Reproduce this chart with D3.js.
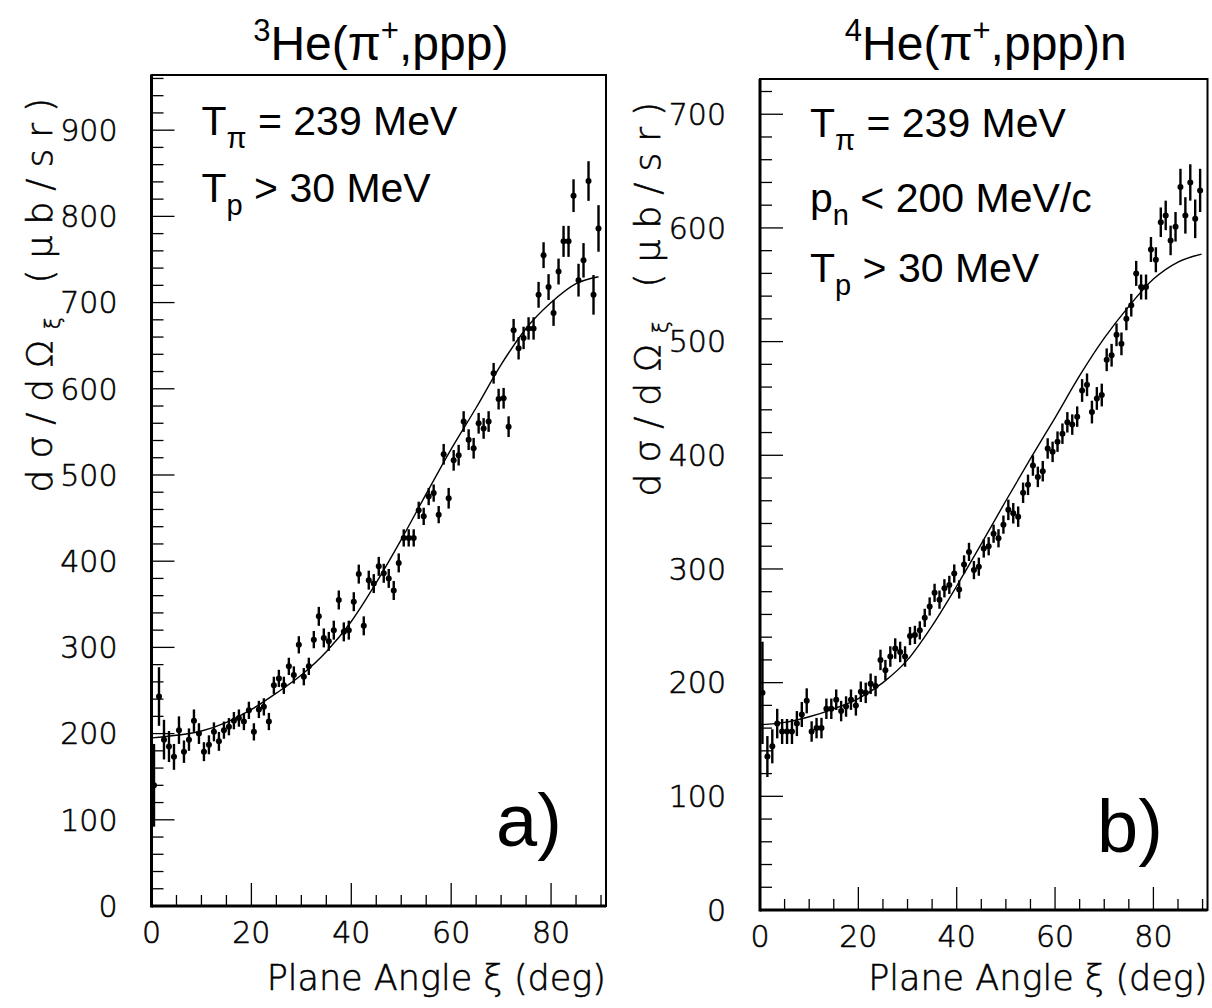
<!DOCTYPE html>
<html><head><meta charset="utf-8">
<script src="https://cdn.jsdelivr.net/npm/d3@7"></script>
<style>
html,body{margin:0;padding:0;background:#fff;}
svg{display:block;}
</style></head>
<body>
<script>
// ---------- data ----------
const binCenters = [0.5,1.5,2.5,3.5,4.5,5.5,6.5,7.5,8.5,9.5,10.5,11.5,12.5,13.5,14.5,15.5,16.5,17.5,18.5,19.5,
 20.5,21.5,22.5,23.5,24.5,25.5,26.5,27.5,28.5,29.5,30.5,31.5,32.5,33.5,34.5,35.5,36.5,37.5,38.5,39.5,
 40.5,41.5,42.5,43.5,44.5,45.5,46.5,47.5,48.5,49.5,50.5,51.5,52.5,53.5,54.5,55.5,56.5,57.5,58.5,59.5,
 60.5,61.5,62.5,63.5,64.5,65.5,66.5,67.5,68.5,69.5,70.5,71.5,72.5,73.5,74.5,75.5,76.5,77.5,78.5,79.5,
 80.5,81.5,82.5,83.5,84.5,85.5,86.5,87.5,88.5,89.5];

const he3Values = [140,243,193,185,173,204,179,193,215,200,
 179,187,202,191,204,208,215,218,214,227,
 202,228,231,214,256,264,256,278,268,303,
 266,278,309,336,311,307,320,355,318,320,
 353,385,325,378,374,394,386,380,366,398,
 427,427,427,459,452,475,479,454,524,473,
 517,523,562,541,531,560,554,562,618,588,
 589,556,668,647,659,670,670,709,755,718,
 688,736,771,771,824,726,749,841,709,786];
const he3Errors = [48,34,23,18,15,16,13,13,13,12,
 11,11,11,11,10,10,10,10,10,10,
 10,10,10,10,10,10,10,10,10,10,
 10,10,10,11,11,11,11,11,11,11,
 11,11,11,11,11,11,11,11,11,11,
 10,10,10,10,10,10,10,10,12,12,
 12,12,12,12,12,12,12,12,12,12,
 12,12,13,13,13,13,13,15,15,15,
 15,15,18,18,19,19,20,23,23,27];

const he4Values = [191,135,144,164,157,157,157,164,172,184,
 157,160,160,177,177,185,175,179,185,180,
 192,191,199,197,220,211,223,230,227,223,
 241,242,246,257,267,279,273,283,286,296,
 282,304,315,299,302,318,320,331,327,339,
 352,349,346,367,374,391,381,386,406,403,
 412,419,429,427,434,457,462,438,450,453,
 484,488,506,498,520,532,560,548,548,581,
 572,605,611,589,601,636,611,640,608,633];
const he4Errors = [45,18,15,13,11,11,11,11,11,11,
 9,9,9,9,9,9,9,9,9,9,
 9,9,9,9,9,9,9,9,9,9,
 8,8,8,8,8,8,8,8,8,8,
 8,8,8,8,8,8,8,8,8,8,
 9,9,9,9,9,9,9,9,9,9,
 9,9,9,9,9,10,10,10,10,10,
 10,10,10,10,10,10,11,11,11,11,
 11,13,13,13,13,16,16,16,17,19];

const curveAngles3 = [0,5,10,15,20,25,30,35,40,45,50,55,60,65,70,75,80,85,89.5];
const curveValues3 = [195,198,203,213,228,247,268,295,330,375,425,478,530,578,628,670,700,722,730];
const curveAngles4 = [0,5,10,15,20,25,30,35,40,45,50,55,60,65,70,75,80,85,89.8];
const curveValues4 = [163,165,170,177,186,200,220,250,285,322,360,397,433,470,503,531,555,570,577];

const xTicksMajor = [0,20,40,60,80];
const yTicks3 = [0,100,200,300,400,500,600,700,800,900];
const yTicks4 = [0,100,200,300,400,500,600,700];

// ---------- drawing ----------
const W = 1212, H = 1008;
const svg = d3.select("body").append("svg").attr("width", W).attr("height", H);
svg.append("rect").attr("width", W).attr("height", H).attr("fill", "#fff");

const tickFont = "'DejaVu Sans', sans-serif";
const textFont = "'Liberation Sans', Arial, Helvetica, sans-serif";

function thin(sel) {
  return sel.attr("font-family", tickFont).attr("font-weight", 200)
    .attr("stroke", "#000").attr("stroke-width", 0.55).attr("fill", "#000");
}

function panel(cfg) {
  const x = d3.scaleLinear().domain([0, 91]).range([cfg.left, cfg.right]);
  const y = d3.scaleLinear().domain([0, cfg.ymax]).range([cfg.bottom, cfg.top]);
  const g = svg.append("g");

  // frame
  g.append("rect").attr("x", cfg.left).attr("y", cfg.top)
    .attr("width", cfg.right - cfg.left).attr("height", cfg.bottom - cfg.top)
    .attr("fill", "none").attr("stroke", "#000").attr("stroke-width", 2);

  // y ticks (inside)
  const yMinor = d3.range(0, cfg.ymax + 0.1, 20);
  g.append("g").selectAll("line").data(yMinor).join("line")
    .attr("x1", cfg.left).attr("x2", d => cfg.left + (d % 100 === 0 ? 23 : 12))
    .attr("y1", d => y(d)).attr("y2", d => y(d))
    .attr("stroke", "#000").attr("stroke-width", 1.3);
  // x ticks (inside)
  const xMinor = d3.range(0, 91, 5);
  g.append("g").selectAll("line").data(xMinor).join("line")
    .attr("y1", cfg.bottom).attr("y2", d => cfg.bottom - (d % 20 === 0 ? 23 : 11))
    .attr("x1", d => x(d)).attr("x2", d => x(d))
    .attr("stroke", "#000").attr("stroke-width", 1.3);

  // thick left and bottom axes
  g.append("line").attr("x1", cfg.left).attr("x2", cfg.left)
    .attr("y1", cfg.top).attr("y2", cfg.bottom + 1.5).attr("stroke", "#000").attr("stroke-width", 3);
  g.append("line").attr("x1", cfg.left).attr("x2", cfg.right)
    .attr("y1", cfg.bottom).attr("y2", cfg.bottom).attr("stroke", "#000").attr("stroke-width", 3);

  // tick labels
  thin(g.append("g").selectAll("text").data(cfg.yTicks).join("text")
    .attr("x", cfg.left - 34).attr("y", d => y(d)).attr("dy", "0.36em")
    .attr("text-anchor", "end").attr("font-size", 30)).text(d => d);
  thin(g.append("g").selectAll("text").data(xTicksMajor).join("text")
    .attr("x", d => x(d)).attr("y", cfg.bottom + 37)
    .attr("text-anchor", "middle").attr("font-size", 30)).text(d => d);

  // axis titles
  thin(g.append("text").attr("x", cfg.right).attr("y", 990).attr("text-anchor", "end")
    .attr("font-size", 35)).text("Plane Angle ξ (deg)");
  const yt = thin(g.append("text")
    .attr("transform", `translate(${cfg.ytitleX},${cfg.top + 12}) rotate(-90)`)
    .attr("text-anchor", "end").attr("font-size", 36).attr("letter-spacing", 11));
  yt.append("tspan").text("dσ/dΩ");
  yt.append("tspan").attr("font-size", 22).attr("dy", 8).text("ξ");
  yt.append("tspan").attr("dy", -8).text(" (μb/sr)");

  // title
  const t = g.append("text").attr("x", (cfg.left + cfg.right) / 2 + 2).attr("y", 60)
    .attr("text-anchor", "middle").attr("font-family", textFont).attr("font-size", 48);
  t.append("tspan").attr("font-size", 31).attr("dy", -19).text(cfg.mass);
  t.append("tspan").attr("dy", 19).text("He(π");
  t.append("tspan").attr("font-size", 31).attr("dy", -19).text("+");
  t.append("tspan").attr("dy", 19).text(",ppp)" + cfg.titleTail);

  // annotations
  cfg.notes.forEach(n => {
    const a = g.append("text").attr("x", cfg.left + 50).attr("y", n.y)
      .attr("font-family", textFont).attr("font-size", 41);
    a.append("tspan").text(n.main);
    a.append("tspan").attr("font-size", 29).attr("dy", 13).text(n.sub);
    a.append("tspan").attr("dy", -13).text(n.rest);
  });
  g.append("text").attr("x", cfg.labelX).attr("y", cfg.labelY)
    .attr("font-family", textFont).attr("font-size", 74).text(cfg.label);

  // theory curve
  const line = d3.line().x(d => x(d[0])).y(d => y(d[1])).curve(d3.curveMonotoneX);
  g.append("path").datum(cfg.curveX.map((a, i) => [a, cfg.curveY[i]]))
    .attr("d", line).attr("fill", "none").attr("stroke", "#000").attr("stroke-width", 1.4);

  // data points with error bars
  const pts = binCenters.map((a, i) => ({a, v: cfg.vals[i], e: cfg.errs[i]}));
  g.append("g").selectAll("line").data(pts).join("line")
    .attr("x1", d => x(d.a)).attr("x2", d => x(d.a))
    .attr("y1", d => y(d.v - d.e)).attr("y2", d => y(d.v + d.e))
    .attr("stroke", "#000").attr("stroke-width", 2.4);
  g.append("g").selectAll("circle").data(pts).join("circle")
    .attr("cx", d => x(d.a)).attr("cy", d => y(d.v)).attr("r", 3).attr("fill", "#000");
}

panel({left: 151.5, right: 606, top: 75, bottom: 906, ymax: 964, yTicks: yTicks3,
  ytitleX: 52, mass: "3", titleTail: "",
  notes: [{y: 135, main: "T", sub: "π", rest: " = 239 MeV"}, {y: 202, main: "T", sub: "p", rest: " > 30 MeV"}],
  label: "a)", labelX: 496, labelY: 846,
  curveX: curveAngles3, curveY: curveValues3, vals: he3Values, errs: he3Errors});

panel({left: 760, right: 1207.5, top: 79, bottom: 910, ymax: 731, yTicks: yTicks4,
  ytitleX: 660, mass: "4", titleTail: "n",
  notes: [{y: 137, main: "T", sub: "π", rest: " = 239 MeV"}, {y: 212, main: "p", sub: "n", rest: " < 200 MeV/c"},
          {y: 282, main: "T", sub: "p", rest: " > 30 MeV"}],
  label: "b)", labelX: 1097, labelY: 852,
  curveX: curveAngles4, curveY: curveValues4, vals: he4Values, errs: he4Errors});
</script>
</body></html>
